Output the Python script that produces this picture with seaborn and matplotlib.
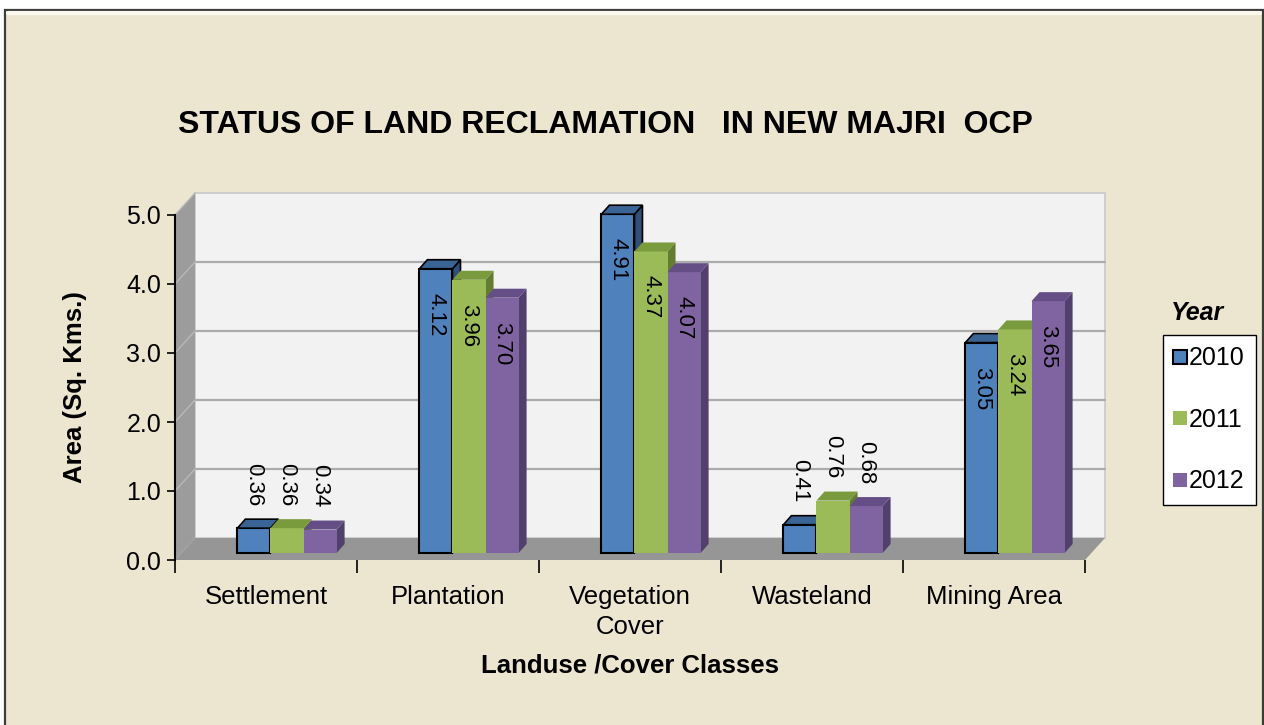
import numpy as np
import pandas as pd
import seaborn as sns
import matplotlib.pyplot as plt
from matplotlib.patches import Rectangle, Polygon
from matplotlib.lines import Line2D

# Data
classes = ['Settlement', 'Plantation', 'Vegetation\nCover', 'Wasteland', 'Mining Area']
years = ['2010', '2011', '2012']
area_2010 = [0.36, 4.12, 4.91, 0.41, 3.05]
area_2011 = [0.36, 3.96, 4.37, 0.76, 3.24]
area_2012 = [0.34, 3.70, 4.07, 0.68, 3.65]
y_ticks = [0, 1, 2, 3, 4, 5]

front_colors = ['#4F81BD', '#9BBB59', '#8064A2']
top_colors = ['#3B6496', '#7A9A3E', '#654E85']
side_colors = ['#2F5079', '#627D31', '#51406B']

df = pd.DataFrame({
    'Class': classes * 3,
    'Year': [y for y in years for _ in classes],
    'Area': area_2010 + area_2011 + area_2012,
})

sns.set_style('white')
plt.rcParams['font.family'] = ['Liberation Sans', 'DejaVu Sans']
plt.rcParams['text.color'] = 'black'
plt.rcParams['axes.labelcolor'] = 'black'
plt.rcParams['xtick.color'] = 'black'
plt.rcParams['ytick.color'] = 'black'

fig = plt.figure(figsize=(12.64, 7.25), dpi=100, facecolor='white')
W, H = 1264, 725

# beige chart area with dark frame
fig.add_artist(Rectangle((5 / W, -0.01), 1258 / W, 1 - 10 / H + 0.01, transform=fig.transFigure,
                         facecolor='#ECE6D1', edgecolor='#3C3C3C', lw=1.6, zorder=0))
fig.add_artist(Line2D([8 / W, 1260 / W], [1 - 13 / H, 1 - 13 / H], transform=fig.transFigure,
                      color='#FBF8EE', lw=3, zorder=0.5))

ax = fig.add_axes([175 / W, 1 - 560 / H, 910 / W, 345 / H])
ax.set_facecolor('none')
ax.set_xlim(-0.5, 4.5)
ax.set_ylim(0, 5)

# pixel -> data conversion
ux = 5 / 910
uy = 5 / 345
DX, DY = 20 * ux, 22 * uy        # wall depth
BX, BY = 21 * ux, 7 * uy         # bar placement on floor
dx, dy = 8 * ux, 9 * uy          # bar depth

# back wall, left wall, floor
ax.add_patch(Rectangle((-0.5 + DX, DY), 5, 5, facecolor='#F2F2F2', edgecolor='#C8C8C8',
                       lw=1.2, clip_on=False, zorder=0.5))
for k in y_ticks[1:-1]:
    ax.plot([-0.5 + DX, 4.5 + DX], [k + DY, k + DY], color='#ABABAB', lw=1.6,
            clip_on=False, zorder=0.6)
ax.add_patch(Polygon([(-0.5, 0), (-0.5, 5), (-0.5 + DX, 5 + DY), (-0.5 + DX, DY)],
                     closed=True, facecolor='#9C9C9C', edgecolor='none', clip_on=False, zorder=0.7))
for k in y_ticks[1:]:
    ax.plot([-0.5, -0.5 + DX], [k, k + DY], color='#B8B8B8', lw=1, clip_on=False, zorder=0.8)
ax.add_patch(Polygon([(-0.5, 0), (4.5, 0), (4.5 + DX, DY), (-0.5 + DX, DY)],
                     closed=True, facecolor='#969696', edgecolor='none', clip_on=False, zorder=0.9))

sns.barplot(data=df, x='Class', y='Area', hue='Year', order=classes, hue_order=years,
            palette=front_colors, width=0.545, saturation=1, legend=False, ax=ax)

for i, container in enumerate(ax.containers):
    ec = 'black' if i == 0 else 'none'
    for patch in container:
        x0 = patch.get_x() + BX
        w = patch.get_width()
        h = patch.get_height()
        patch.set_x(x0)
        patch.set_y(BY)
        patch.set_edgecolor(ec)
        patch.set_linewidth(1.5)
        patch.set_zorder(3 + i)
        patch.set_clip_on(False)
        top = BY + h
        ax.add_patch(Polygon([(x0, top), (x0 + w, top), (x0 + w + dx, top + dy), (x0 + dx, top + dy)],
                             closed=True, facecolor=top_colors[i], edgecolor=ec, lw=1.2,
                             zorder=3 + i, clip_on=False))
        ax.add_patch(Polygon([(x0 + w, BY), (x0 + w, top), (x0 + w + dx, top + dy), (x0 + w + dx, BY + dy)],
                             closed=True, facecolor=side_colors[i], edgecolor=ec, lw=1.2,
                             zorder=3 + i - 0.5, clip_on=False))
        xc = x0 + w / 2
        if h > 1.5:
            ax.text(xc, top - 24 * uy, f'{h:.2f}', rotation=270, ha='center', va='top',
                    fontsize=16, zorder=10)
        else:
            ax.text(xc, top + 22 * uy, f'{h:.2f}', rotation=270, ha='center', va='bottom',
                    fontsize=16, zorder=10)

# axes styling
for side in ['top', 'right', 'bottom']:
    ax.spines[side].set_visible(False)
ax.spines['left'].set_color('black')
ax.spines['left'].set_linewidth(1.5)
ax.set_yticks(y_ticks)
ax.set_yticklabels([f'{v:.1f}' for v in y_ticks], fontsize=18)
ax.tick_params(axis='y', direction='out', length=6, width=1.2, color='black', left=True, pad=4)
ax.set_xticks(range(len(classes)))
ax.set_xticklabels(classes, fontsize=18.5, linespacing=1.3)
ax.set_xticks(np.arange(-0.5, 5, 1), minor=True)
ax.tick_params(axis='x', which='major', length=0, pad=18)
ax.tick_params(axis='x', which='minor', direction='out', length=9, width=1.2, color='black', bottom=True)
ax.set_xlabel('Landuse /Cover Classes', fontsize=18.5, fontweight='bold', labelpad=11)
ax.set_ylabel('Area (Sq. Kms.)', fontsize=18.5, fontweight='bold', labelpad=28)

fig.text(605 / W, 1 - 125 / H, 'STATUS OF LAND RECLAMATION   IN NEW MAJRI  OCP',
         ha='center', va='center', fontsize=23, fontweight='bold')

# legend
handles = [Line2D([], [], marker='s', linestyle='none', markersize=10, markerfacecolor=c,
                  markeredgecolor='black' if i == 0 else c, markeredgewidth=1.5 if i == 0 else 0)
           for i, c in enumerate(front_colors)]
leg = fig.legend(handles, years, loc='upper left', bbox_to_anchor=(1163 / W, 1 - 335 / H),
                 frameon=True, fancybox=False, edgecolor='black', framealpha=1,
                 fontsize=18, labelspacing=1.5, handlelength=0.45, handletextpad=0.15,
                 borderpad=0.45, borderaxespad=0)
leg.get_frame().set_linewidth(1.0)
fig.text(1198 / W, 1 - 313 / H, 'Year', ha='center', va='center', fontsize=18,
         fontweight='bold', fontstyle='italic')

fig.savefig('out.png', dpi=100, facecolor=fig.get_facecolor())
